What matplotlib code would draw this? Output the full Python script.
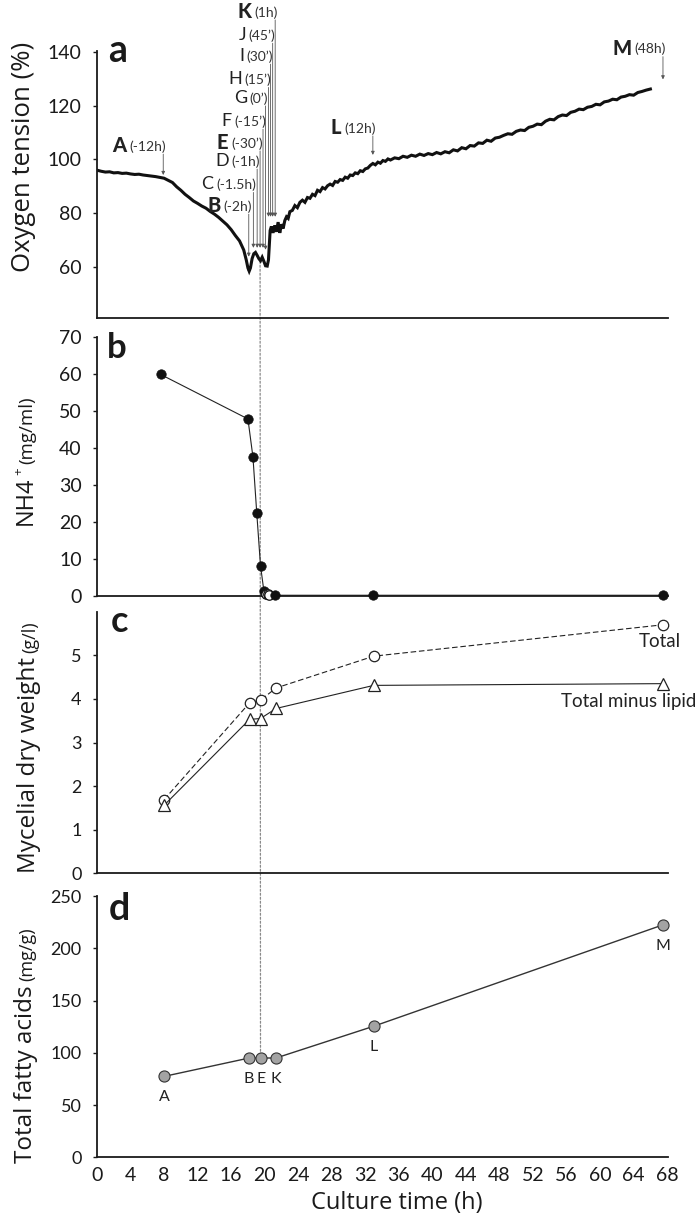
import matplotlib
matplotlib.use("Agg")
import matplotlib.pyplot as plt
from matplotlib.patches import ConnectionPatch

# ---------------- data ----------------
o2_time = [0, 0.5, 1, 1.5, 2, 2.5, 3, 3.5, 4, 4.5, 5, 5.5, 6, 6.5, 7, 7.5, 8, 8.5, 9, 9.5,
           10, 10.5, 11, 11.5, 12, 12.5, 13, 13.5, 14, 14.5, 15, 15.5, 16, 16.5, 17, 17.5,
           17.8, 18.0, 18.15, 18.3, 18.5, 18.7, 18.9, 19.1, 19.3, 19.5, 19.7, 19.9, 20.1,
           20.3, 20.45, 20.55, 20.65, 20.8, 21.0, 21.2, 21.4, 21.6, 21.8, 22.0, 22.2, 22.4,
           22.6, 22.8, 23.0, 23.3, 23.6, 23.9, 24.2, 24.5, 24.8, 25.1, 25.4, 25.7, 26.0,
           26.3, 26.6, 26.9, 27.2, 27.5, 27.8, 28.1, 28.4, 28.7, 29.0, 29.3, 29.6, 29.9,
           30.2, 30.5, 30.8, 31.1, 31.4, 31.7, 32.0, 32.3, 32.6, 32.9, 33.2, 33.5, 33.8,
           34.1, 34.4, 34.7, 35.0, 35.5, 36, 36.5, 37, 37.5, 38, 38.5, 39, 39.5, 40, 40.5,
           41, 41.5, 42, 42.5, 43, 43.5, 44, 44.5, 45, 45.5, 46, 46.5, 47, 47.5, 48, 48.5,
           49, 49.5, 50, 50.5, 51, 51.5, 52, 52.5, 53, 53.5, 54, 54.5, 55, 55.5, 56, 56.5,
           57, 57.5, 58, 58.5, 59, 59.5, 60, 60.5, 61, 61.5, 62, 62.5, 63, 63.5, 64, 64.5,
           65, 65.5, 66]
o2_tension = [96.0, 95.6, 95.3, 95.4, 95.0, 95.1, 94.8, 94.9, 94.6, 94.4, 94.5, 94.2, 94.0,
              93.8, 93.6, 93.3, 93.0, 92.2, 91.4, 89.8, 88.5, 87.0, 85.8, 84.5, 83.6, 82.6,
              81.8, 80.6, 79.6, 78.4, 77.0, 75.6, 73.8, 71.6, 69.6, 66.2, 62.5, 59.5, 58.3,
              59.5, 63.0, 64.8, 65.3, 64.2, 63.0, 62.2, 63.5, 62.0, 60.3, 60.2, 62.5, 68.0,
              73.5, 75.0, 72.6, 75.4, 73.0, 76.6, 72.6, 75.8, 74.2, 77.2, 78.6, 78.0, 80.5,
              81.0, 82.8, 82.0, 84.0, 84.8, 84.0, 85.8, 85.5, 87.0, 86.5, 88.5, 88.0, 89.5,
              89.0, 90.2, 90.8, 90.3, 91.8, 91.5, 92.5, 92.2, 93.4, 93.0, 94.2, 94.0, 95.0,
              94.7, 95.8, 95.5, 96.5, 96.8, 97.8, 98.5, 98.0, 99.0, 98.6, 99.6, 99.3, 100.2,
              99.8, 100.6, 100.3, 101.2, 100.8, 101.6, 101.2, 102.0, 101.5, 102.2, 101.8,
              102.6, 102.1, 102.9, 102.5, 103.6, 103.2, 104.4, 104.0, 105.2, 105.0, 106.2,
              106.0, 107.2, 106.8, 108.0, 108.3, 109.0, 109.6, 109.4, 110.5, 111.0, 110.8,
              112.0, 112.4, 113.2, 113.0, 114.3, 115.0, 114.8, 116.0, 116.6, 116.4, 117.6,
              118.0, 118.8, 118.6, 119.5, 119.8, 120.6, 120.4, 121.5, 121.8, 122.5, 122.3,
              123.3, 123.6, 124.2, 124.0, 125.0, 125.4, 125.9, 126.3]

sample_letters = ["A", "B", "C", "D", "E", "F", "G", "H", "I", "J", "K", "L", "M"]
sample_offsets = ["(-12h)", "(-2h)", "(-1.5h)", "(-1h)", "(-30\u2019)", "(-15\u2019)", "(0\u2019)",
                  "(15\u2019)", "(30\u2019)", "(45\u2019)", "(1h)", "(12h)", "(48h)"]
sample_bold = [True, True, False, False, True, False, False, False, False, False, True, True, True]
sample_time = [7.9, 18.1, 18.65, 19.1, 19.45, 19.8, 20.1, 20.45, 20.7, 20.95, 21.25, 32.9, 67.5]

nh4_time = [7.6, 18.0, 18.6, 19.05, 19.5, 19.9, 20.15, 20.35, 20.55, 21.2, 32.9, 67.5]
nh4_value = [59.8, 47.8, 37.5, 22.5, 8.2, 1.4, 0.6, 0.5, 0.4, 0.2, 0.2, 0.2]

dw_time = [8.0, 18.2, 19.5, 21.35, 33.0, 67.5]
dw_total = [1.69, 3.91, 3.97, 4.25, 4.98, 5.70]
dw_minus_lipid = [1.56, 3.53, 3.55, 3.78, 4.31, 4.35]

tfa_time = [8.0, 18.15, 19.6, 21.35, 33.0, 67.5]
tfa_value = [77.4, 95.0, 95.0, 95.0, 125.4, 222.4]
tfa_letters = ["A", "B", "E", "K", "L", "M"]

x_ticks = list(range(0, 69, 4))
a_ticks = [60, 80, 100, 120, 140]
b_ticks = [0, 10, 20, 30, 40, 50, 60, 70]
c_ticks = [0, 1, 2, 3, 4, 5]
d_ticks = [0, 50, 100, 150, 200, 250]

# ---------------- layout ----------------
label_y = [104.8, 82.4, 90.5, 99.2, 106.0, 114.1, 122.8, 129.7, 138.4, 146.2, 154.9, 111.6, 141.2]
arrow_tip = [94.2, 63.7, 67.0, 67.0, 67.0, 67.0, 66.3, 78.6, 78.6, 78.6, 78.6, 101.7, 129.9]
open_nh4 = [False, False, False, False, False, False, True, True, True, False, False, False]

plt.rcParams['font.family'] = ['Lato', 'DejaVu Sans']
LABEL_FONT = ['Open Sans', 'DejaVu Sans']

W, H = 700, 1221
fig = plt.figure(figsize=(W / 100, H / 100), dpi=100)
renderer = fig.canvas.get_renderer()

left = 97 / W
width = (668 - 97) / W


def make_ax(top_px, bottom_px):
    ax = fig.add_axes([left, 1 - bottom_px / H, width, (bottom_px - top_px) / H])
    ax.set_facecolor('none')
    for s in ['top', 'right']:
        ax.spines[s].set_visible(False)
    for s in ['left', 'bottom']:
        ax.spines[s].set_linewidth(1.3)
        ax.spines[s].set_color('#1a1a1a')
    ax.set_xlim(0, 68.1)
    ax.tick_params(axis='y', direction='out', length=3, width=1, pad=8, colors='#1a1a1a')
    ax.tick_params(axis='x', bottom=False, labelbottom=False)
    return ax


ax_a = make_ax(51, 318.3)
ax_b = make_ax(336.7, 596)
ax_c = make_ax(611.7, 873.3)
ax_d = make_ax(896, 1157.3)

# ---- panel a ----
ax_a.plot(o2_time, o2_tension, color='#111111', lw=2.2, solid_joinstyle='miter')
ax_a.set_ylim(40.7, 140.5)
ax_a.set_yticks(a_ticks)
ax_a.tick_params(axis='y', labelsize=14)

for i, letter in enumerate(sample_letters):
    t = sample_time[i]
    ax_a.annotate("", xy=(t, arrow_tip[i]), xytext=(t, label_y[i] - 2.8),
                  arrowprops=dict(arrowstyle="-|>", color='#555555', lw=0.6,
                                  mutation_scale=5, shrinkA=0, shrinkB=0))
    par = ax_a.annotate(sample_offsets[i], xy=(t, label_y[i]), xytext=(2.0, 0),
                        textcoords='offset points', ha='right', va='center',
                        fontsize=10, color='#333333', annotation_clip=False)
    ax_a.annotate(letter, xy=(0, 0.5), xycoords=par, xytext=(-2.0, 0.5),
                  textcoords='offset points', ha='right', va='center',
                  fontsize=14.5 if sample_bold[i] else 13,
                  fontweight='black' if sample_bold[i] else 'normal', color='#222222')

# ---- panel b ----
ax_b.plot(nh4_time, nh4_value, color='#222222', lw=0.8, clip_on=False, zorder=2)
for i in range(len(nh4_time)):
    if open_nh4[i]:
        ax_b.plot([nh4_time[i]], [nh4_value[i]], 'o', ms=6.8, mfc='white', mec='#111111',
                  mew=0.9, clip_on=False, zorder=3)
    else:
        ax_b.plot([nh4_time[i]], [nh4_value[i]], 'o', ms=6.8, mfc='#111111', mec='#111111',
                  mew=0.5, clip_on=False, zorder=3)
ax_b.set_ylim(0, 70)
ax_b.set_yticks(b_ticks)
ax_b.tick_params(axis='y', labelsize=14)

# ---- panel c ----
ax_c.plot(dw_time, dw_total, color='#222222', lw=0.8, ls=(0, (5, 2.5)), marker='o', ms=7.5,
          mfc='white', mec='#222222', mew=0.9, clip_on=False, zorder=3)
ax_c.plot(dw_time, dw_minus_lipid, color='#222222', lw=0.8, marker='^', ms=8,
          mfc='white', mec='#222222', mew=0.9, clip_on=False, zorder=3)
ax_c.set_ylim(0, 6)
ax_c.set_yticks(c_ticks)
ax_c.tick_params(axis='y', labelsize=13)
ax_c.text(67.1, 5.31, "Total", ha='center', va='center', fontsize=13.5, color='#222222')
ax_c.text(71.5, 3.95, "Total minus lipid", ha='right', va='center', fontsize=13.5,
          color='#222222', clip_on=False)

# ---- panel d ----
ax_d.plot(tfa_time, tfa_value, color='#333333', lw=1.0, marker='o', ms=8,
          mfc='#a3a3a3', mec='#333333', mew=0.8, clip_on=False, zorder=3)
for t, v, lab in zip(tfa_time, tfa_value, tfa_letters):
    ax_d.annotate(lab, xy=(t, v), xytext=(0, -15), textcoords='offset points',
                  ha='center', va='center', fontsize=11.5, color='#222222')
ax_d.set_ylim(0, 250)
ax_d.set_yticks(d_ticks)
ax_d.set_xticks(x_ticks)
ax_d.tick_params(axis='y', labelsize=13)
ax_d.tick_params(axis='x', bottom=True, labelbottom=True, length=0, pad=7, labelsize=14,
                 colors='#1a1a1a')

# panel letters
for ax, lab, fx, fy, fs in [(ax_a, 'a', 0.019, 0.959, 27), (ax_b, 'b', 0.0175, 0.918, 25),
                            (ax_c, 'c', 0.0245, 0.922, 26), (ax_d, 'd', 0.021, 0.908, 27)]:
    ax.text(fx, fy, lab, transform=ax.transAxes, ha='left', va='baseline',
            fontsize=fs, fontweight='bold', color='#1a1a1a')

# dotted guide line through E
con = ConnectionPatch(xyA=(19.45, 62.0), coordsA=ax_a.transData,
                      xyB=(19.5, 99.0), coordsB=ax_d.transData,
                      color='#8a8a8a', lw=0.9, linestyle=(0, (1.6, 1.6)), zorder=-1)
fig.add_artist(con)


# y labels
def stacked_label(pieces, x_px, y_start_px):
    y = y_start_px
    for txt, size, dx, gap in pieces:
        y -= gap
        t = fig.text((x_px + dx) / W, 1 - y / H, txt, rotation=90, rotation_mode='anchor',
                     ha='left', va='baseline', fontsize=size, family=LABEL_FONT,
                     color='#1a1a1a')
        bb = t.get_window_extent(renderer)
        y = H - bb.y1


stacked_label([("Oxygen tension (%)", 18.5, 0, 0)], 30, 272)
stacked_label([("NH4", 17, 0, 0), ("+", 9.5, -10, 1), ("(mg/ml)", 13.5, 0, 4)], 32, 525)
stacked_label([("Mycelial dry weight", 17.5, 0, 0), ("(g/l)", 13, 0, 4)], 35, 873)
stacked_label([("Total fatty acids", 17.5, 0, 0), ("(mg/g)", 13, 0, 4)], 32, 1163)

fig.text(397 / W, 1 - 1203 / H, "Culture time (h)", ha='center', va='center', fontsize=17,
         family=LABEL_FONT, color='#1a1a1a')

fig.savefig('out.png', dpi=100)
